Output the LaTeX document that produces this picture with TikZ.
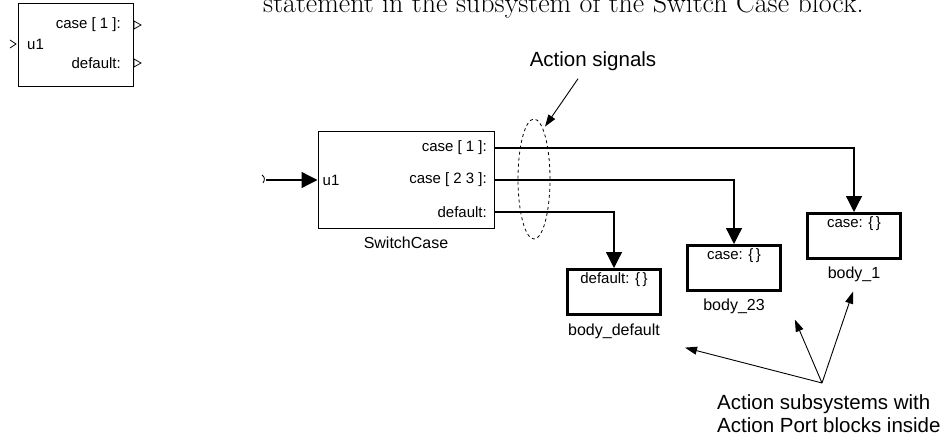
\documentclass[tikz,border=0pt]{standalone}
\usepackage{fontspec}
\setsansfont{Liberation Sans}
\usetikzlibrary{arrows.meta,calc,shapes.geometric}

\tikzset{
  blk/.style={draw, line width=1pt, inner sep=0pt},
  actblk/.style={draw, line width=3pt, minimum width=93pt, minimum height=45pt, inner sep=0pt},
  sig/.style={line width=1.3pt},
  note/.style={line width=0.9pt, -{Triangle[length=12pt,width=8pt]}},
  port/.style={font=\sffamily\fontsize{15}{16}\selectfont, inner sep=1pt},
  lbl/.style={font=\sffamily\fontsize{16}{18}\selectfont, inner sep=1pt},
  bigtxt/.style={font=\sffamily\fontsize{20.5}{23}\selectfont, inner sep=0pt}
}

\begin{document}
\begin{tikzpicture}[x=1pt, y=-1pt, >={Triangle[length=16pt,width=16pt]}]
  \useasboundingbox (0,0) rectangle (950,441);
  \clip (0,0) rectangle (950,441);

  % --- texto cortado arriba ---
  \node[anchor=base west, inner sep=0pt, font=\rmfamily\fontsize{28}{30}\selectfont] (head) at (263,13)
    {statement in the subsystem of the Switch Case block.};

  % --- bloque pequeno ---
  \node[blk, minimum width=115, minimum height=83] (mini) at (75.5,45.5) {};
  \draw[line width=0.8pt] (10,40) -- (16,44) -- (10,48);
  \draw[line width=0.8pt] (134,21) -- (141,25) -- (134,29) -- cycle;
  \draw[line width=0.8pt] (134,59) -- (141,63) -- (134,67) -- cycle;
  \node[port, anchor=east] at (122,25) {case [ 1 ]:};
  \node[port, anchor=west] at (26,44) {u1};
  \node[port, anchor=east] at (122,63) {default:};

  % --- bloque SwitchCase ---
  \node[blk, minimum width=176, minimum height=96] (sc) at (406,180) {};
  \node[lbl] (sclbl) at ($(sc.south)+(0,14)$) {SwitchCase};
  \coordinate (c1) at (494,148);
  \coordinate (c23) at (494,180);
  \coordinate (cdef) at (494,212);
  \node[port, anchor=east] at ($(c1)+(-6,0)$) {case [ 1 ]:};
  \node[port, anchor=east] at ($(c23)+(-6,0)$) {case [ 2 3 ]:};
  \node[port, anchor=east] at ($(cdef)+(-6,0)$) {default:};
  \node[port, anchor=west] at ($(sc.west)+(4,0)$) {u1};

  \coordinate (in) at (266,180);
  \draw[line width=0.8pt] (262,175) .. controls (265,177) and (265,180) .. (263,183);
  \draw[sig,->] (in) -- (sc.west);

  % --- subsistemas de accion ---
  \node[actblk] (bdef) at (614,292) {};
  \node[actblk] (b23) at (734,268) {};
  \node[actblk] (b1) at (854,236) {};
  \node[port, below] at ($(bdef.north)+(0,3)$) {default: \{\,\}};
  \node[port, below] at ($(b23.north)+(0,3)$) {case: \{\,\}};
  \node[port, below] at ($(b1.north)+(0,3)$) {case: \{\,\}};
  \node[lbl] (bdeflbl) at ($(bdef.south)+(0,15)$) {body\_default};
  \node[lbl] (b23lbl) at ($(b23.south)+(0,14)$) {body\_23};
  \node[lbl] (b1lbl) at ($(b1.south)+(0,14)$) {body\_1};

  \draw[sig,->] (c1) -| (b1.north);
  \draw[sig,->] (c23) -| (b23.north);
  \draw[sig,->] (cdef) -| (bdef.north);

  % --- senales de accion ---
  \node[draw, ellipse, dashed, line width=0.8pt, minimum width=32, minimum height=120, inner sep=0pt] (sigs) at (534,179) {};
  \node[bigtxt] (asig) at (593,61) {Action signals};
  \draw[note] ($(asig.south)+(-15,8)$) -- ($(sigs.north)+(11,8)$);

  % --- notas de abajo ---
  \node[bigtxt, anchor=north west, align=left] (asub) at (717,394)
    {Action subsystems with\\Action Port blocks inside};
  \coordinate (fan) at (822,383);
  \draw[note] (fan) -- ($(bdeflbl.south east)+(24,8)$);
  \draw[note] (fan) -- ($(b23lbl.south east)+(29,5)$);
  \draw[note] (fan) -- ($(b1lbl.south)+(-1,9)$);
\end{tikzpicture}
\end{document}
